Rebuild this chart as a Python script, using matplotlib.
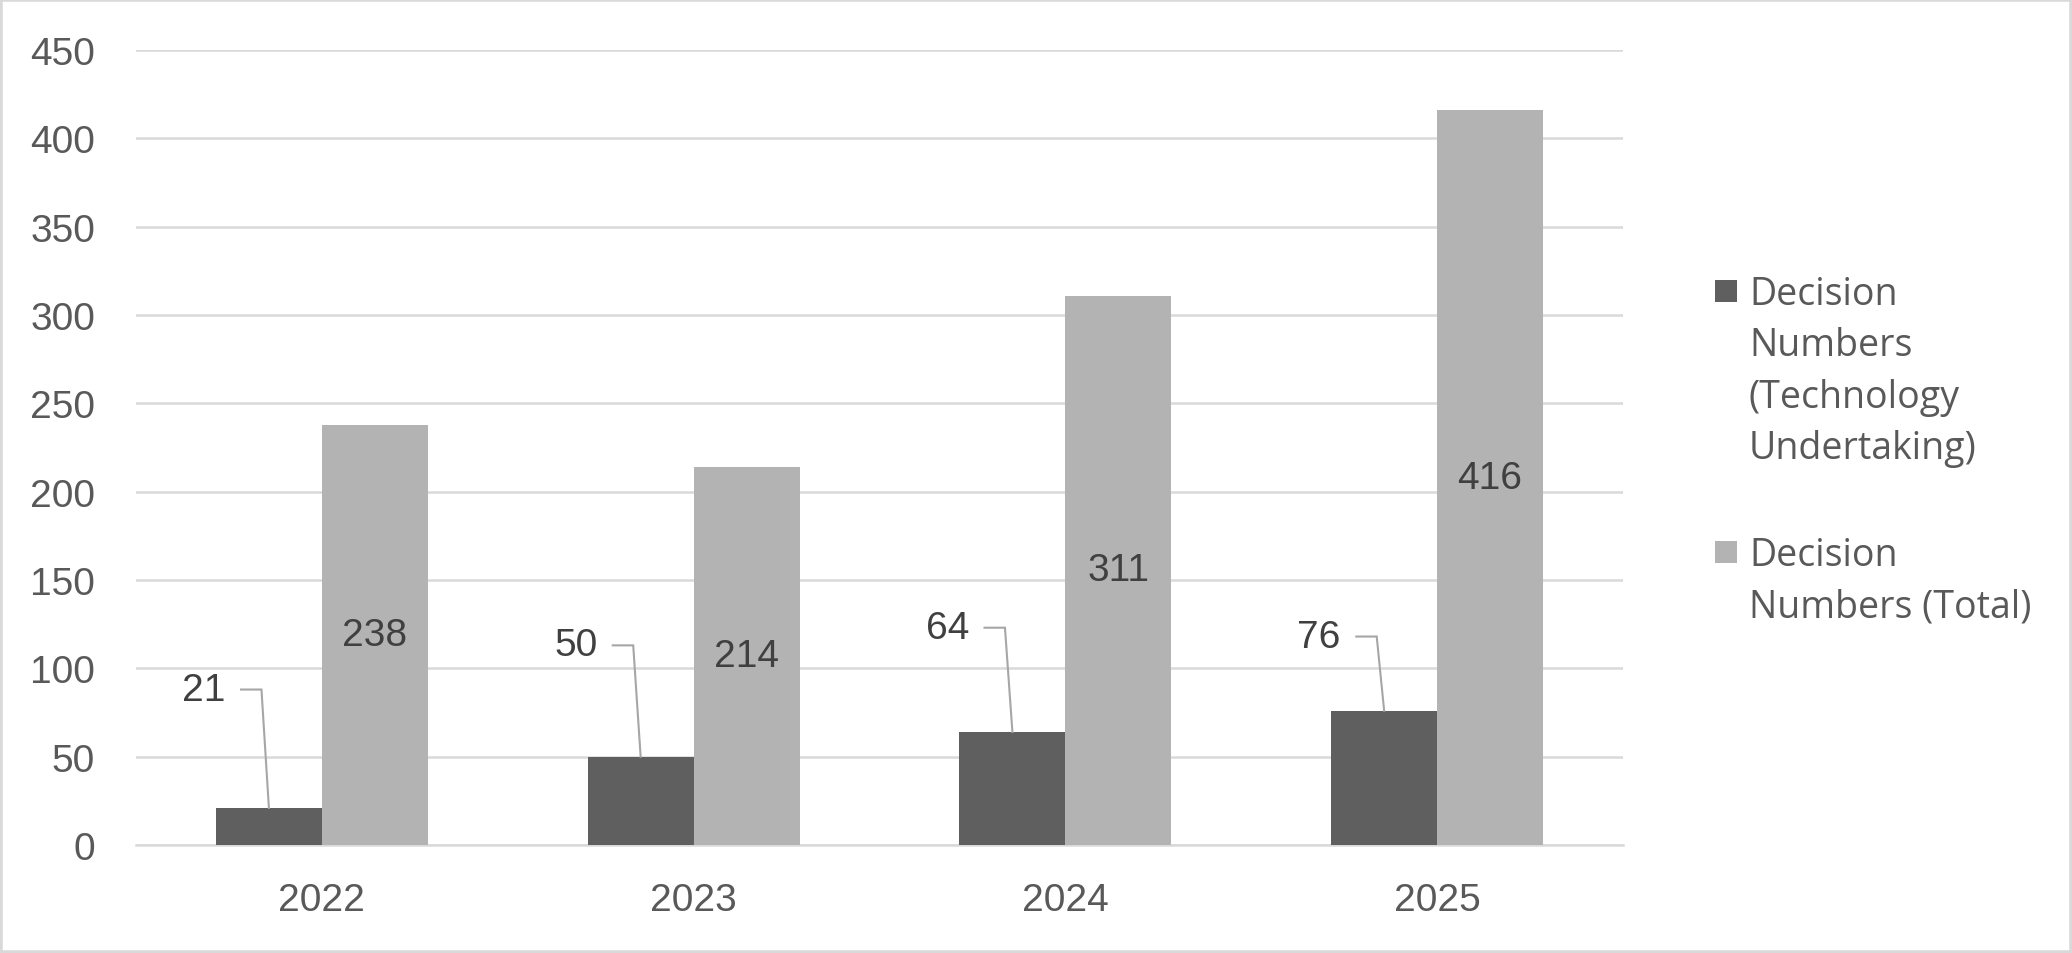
import numpy as np
import matplotlib
matplotlib.use("Agg")
import matplotlib.pyplot as plt
from matplotlib.patches import Rectangle

plt.rcParams["font.family"] = ["Liberation Sans", "DejaVu Sans"]

# ---- data ----
years = ["2022", "2023", "2024", "2025"]
tech_decisions = [21, 50, 64, 76]
total_decisions = [238, 214, 311, 416]
series_names = ["Decision\nNumbers\n(Technology\nUndertaking)", "Decision\nNumbers (Total)"]

# where the callout labels for the small bars sit (data units)
callout_y = [88, 113, 123, 118]

# ---- style ----
DARK = "#5f5f5f"
LIGHT = "#b3b3b3"
GRID = "#d9d9d9"
TICK_COL = "#595959"
LABEL_COL = "#404040"
LEADER = "#a6a6a6"
FS = 28

W, H, DPI = 2072, 954, 100
fig = plt.figure(figsize=(W / DPI, H / DPI), dpi=DPI, facecolor="white")
ax = fig.add_axes([136 / W, 1 - 846 / H, (1623 - 136) / W, (846 - 51) / H])

x = np.arange(len(years))
bw = 0.285
ax.bar(x - bw / 2, tech_decisions, bw, color=DARK, zorder=3)
ax.bar(x + bw / 2, total_decisions, bw, color=LIGHT, zorder=3)

ax.set_xlim(-0.5, len(years) - 0.5)
ax.set_ylim(0, 450)
ax.set_yticks(np.arange(0, 451, 50))
ax.set_xticks(x)
ax.set_xticklabels(years)
ax.tick_params(axis="y", length=0, pad=29.5, labelsize=FS, labelcolor=TICK_COL)
ax.tick_params(axis="x", length=0, pad=27, labelsize=FS, labelcolor=TICK_COL)
ax.grid(axis="y", color=GRID, linewidth=1.8, zorder=0)
for s in ["top", "right", "left"]:
    ax.spines[s].set_visible(False)
ax.spines["bottom"].set_color(GRID)
ax.spines["bottom"].set_linewidth(1.8)

# labels inside the tall bars
for xi, v in zip(x, total_decisions):
    ax.text(xi + bw / 2, v / 2, f"{v}", ha="center", va="center",
            fontsize=FS, color=LABEL_COL, zorder=4)

# callout labels with leader lines for the small bars
dx_lab = -0.175          # label centre relative to bar centre (category units)
elbow = (0.10, 0.155)    # horizontal stub, relative to label centre
for xi, v, ly in zip(x, tech_decisions, callout_y):
    bx = xi - bw / 2
    lx = bx + dx_lab
    ax.text(lx, ly, f"{v}", ha="center", va="center", fontsize=FS,
            color=LABEL_COL, zorder=4)
    ax.plot([lx + elbow[0], lx + elbow[1], bx], [ly, ly, v],
            color=LEADER, linewidth=1.5, zorder=4, solid_joinstyle="miter")

# legend, drawn by hand so the swatch lines up with the first text line
leg_items = [(DARK, series_names[0], 292), (LIGHT, series_names[1], 553)]
for col, name, yc in leg_items:
    fig.patches.append(Rectangle((1715 / W, 1 - (yc + 11) / H), 22 / W, 22 / H,
                                 transform=fig.transFigure, facecolor=col,
                                 edgecolor="none"))
    fig.text(1749 / W, 1 - (yc - 16) / H, name, ha="left", va="top",
             fontsize=27, color=TICK_COL, linespacing=1.46,
             family=["Open Sans", "DejaVu Sans"])

# light border round the whole chart
fig.patches.append(Rectangle((0, 0), 1, 1, transform=fig.transFigure,
                             facecolor="none", edgecolor=GRID, linewidth=4))

fig.savefig("out.png", dpi=DPI, facecolor="white")
